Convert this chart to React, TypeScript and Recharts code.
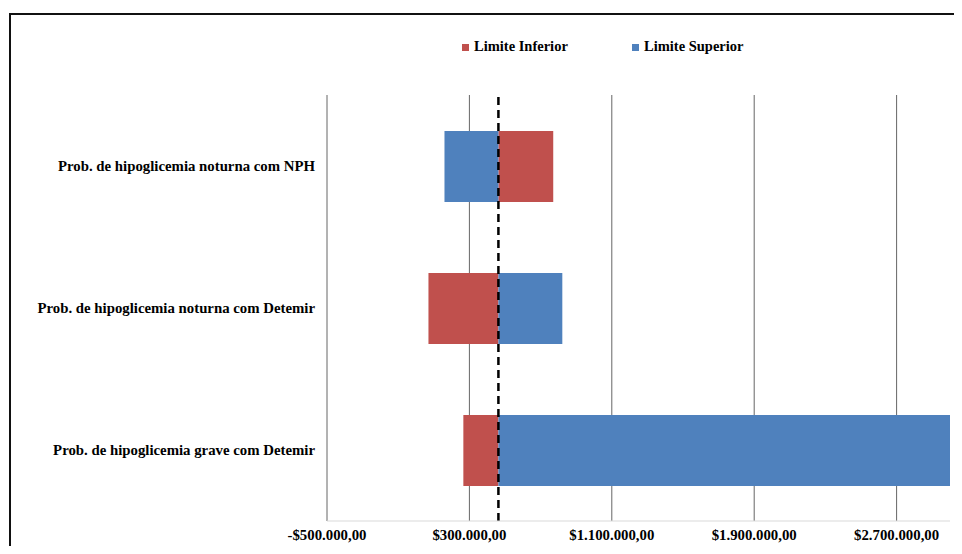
import React from 'react';
import {
    BarChart,
    Bar,
    XAxis,
    YAxis,
    CartesianGrid,
    ReferenceLine,
    Legend
} from 'recharts';

// tornado chart values (reais)
const categories = [
    'Prob. de hipoglicemia noturna com NPH',
    'Prob. de hipoglicemia noturna com Detemir',
    'Prob. de hipoglicemia grave com Detemir'
];
const baseCase = 463000;
const limiteInferior = [771000, 70000, 266000];
const limiteSuperior = [160000, 822000, 3000000];
const xTicks = [-500000, 300000, 1100000, 1900000, 2700000];

const RED = '#C0504D';
const BLUE = '#4F81BD';
const FONT = '"Liberation Serif", "Times New Roman", serif';

const data = categories.map((name, i) => ({
    name,
    inf: [Math.min(baseCase, limiteInferior[i]), Math.max(baseCase, limiteInferior[i])],
    sup: [Math.min(baseCase, limiteSuperior[i]), Math.max(baseCase, limiteSuperior[i])]
}));

const fmtMoney = (v: number) => {
    const abs = Math.abs(v);
    const int = Math.floor(abs).toString().replace(/\B(?=(\d{3})+(?!\d))/g, '.');
    return (v < 0 ? '-$' : '$') + int + ',00';
};

const LegendContent = () => (
    <div style={{ position: 'relative', height: 20, fontFamily: FONT, fontWeight: 'bold', fontSize: 14.5, color: '#000' }}>
        <span style={{ position: 'absolute', left: 462, top: 6, width: 7, height: 7, background: RED }} />
        <span style={{ position: 'absolute', left: 474, top: 0 }}>Limite Inferior</span>
        <span style={{ position: 'absolute', left: 632, top: 6, width: 7, height: 7, background: BLUE }} />
        <span style={{ position: 'absolute', left: 644, top: 0 }}>Limite Superior</span>
    </div>
);

export default function App() {
    return (
        <div style={{ position: 'relative', margin: -8, width: 962, height: 554, overflow: 'hidden', background: '#fff' }}>
            <div style={{ position: 'absolute', left: 9, top: 13, width: 1000, height: 600, border: '2px solid #111', boxSizing: 'border-box' }} />
            <div style={{ position: 'absolute', left: 0, top: 0 }}>
                <BarChart
                    width={962}
                    height={554}
                    data={data}
                    layout="vertical"
                    margin={{ top: 75, right: 12, bottom: 0, left: 0 }}
                    barSize={71}
                >
                    <CartesianGrid horizontal={false} vertical={true} verticalValues={xTicks} stroke="#666" strokeWidth={1} />
                    <XAxis
                        type="number"
                        domain={[-500000, 3000000]}
                        ticks={xTicks}
                        tickFormatter={fmtMoney}
                        allowDataOverflow
                        height={33}
                        axisLine={{ stroke: '#d9d9d9' }}
                        tickLine={false}
                        tick={{ fill: '#000', fontFamily: FONT, fontWeight: 'bold', fontSize: 14.8 }}
                        tickMargin={2}
                    />
                    <YAxis
                        type="category"
                        dataKey="name"
                        width={327}
                        axisLine={false}
                        tickLine={false}
                        tick={{ fill: '#000', fontFamily: FONT, fontWeight: 'bold', fontSize: 14.8 }}
                        tickMargin={6}
                    />
                    <YAxis yAxisId="sup" type="category" dataKey="name" hide />
                    <Legend
                        verticalAlign="top"
                        content={<LegendContent />}
                        wrapperStyle={{ position: 'absolute', top: 38, left: 0, width: 962 }}
                    />
                    <Bar dataKey="inf" name="Limite Inferior" fill={RED} isAnimationActive={false} />
                    <Bar dataKey="sup" yAxisId="sup" name="Limite Superior" fill={BLUE} isAnimationActive={false} />
                    <ReferenceLine x={baseCase} stroke="#000" strokeWidth={2.5} strokeDasharray="8 5" />
                </BarChart>
            </div>
        </div>
    );
}
